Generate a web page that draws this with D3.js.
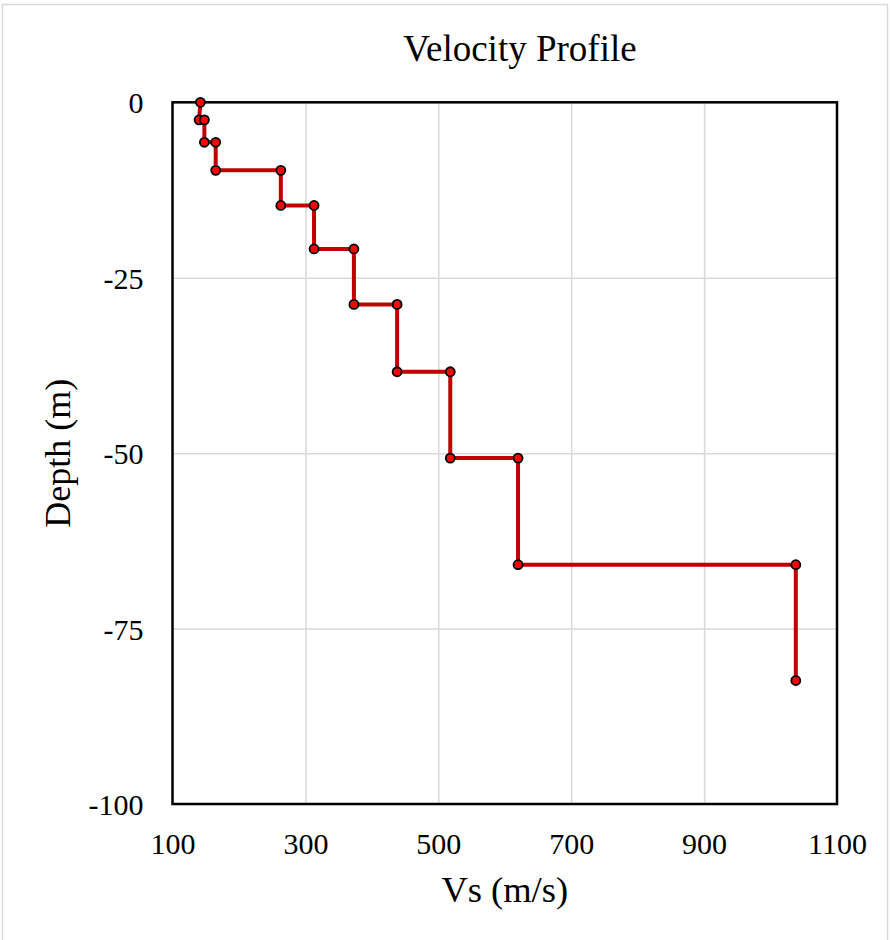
<!DOCTYPE html>
<html>
<head>
<meta charset="utf-8">
<script src="https://cdn.jsdelivr.net/npm/d3@7"></script>
<style>
html,body{margin:0;padding:0;background:#fff;}
svg text{font-family:"Liberation Serif","Times New Roman",serif;fill:#000;}
</style>
</head>
<body>
<svg id="chart" width="890" height="940"></svg>
<script>
// Data
const vs =    [142, 140, 148, 148, 165, 165, 263, 263, 313, 313, 373, 373, 438, 438, 518, 518, 620, 620, 1038, 1038];
const depth = [0, -2.5, -2.5, -5.7, -5.7, -9.7, -9.7, -14.7, -14.7, -20.9, -20.9, -28.8, -28.8, -38.4, -38.4, -50.7, -50.7, -65.9, -65.9, -82.4];
const xTicks = [100, 300, 500, 700, 900, 1100];
const yTicks = [0, -25, -50, -75, -100];
const titleText = "Velocity Profile";
const xLabel = "Vs (m/s)";
const yLabel = "Depth (m)";

const svg = d3.select("#chart");
const plot = {left: 172.5, right: 837, top: 102.3, bottom: 804};

// outer chart border
svg.append("rect").attr("x", 2.5).attr("y", 4.5).attr("width", 885).attr("height", 940)
  .attr("fill", "#fff").attr("stroke", "#d9d9d9").attr("stroke-width", 1.5);

const x = d3.scaleLinear().domain([100, 1100]).range([plot.left, plot.right]);
const y = d3.scaleLinear().domain([-100, 0]).range([plot.bottom, plot.top]);
const fmt = d => String(d);

// gridlines
svg.append("g").attr("transform", `translate(0,${plot.bottom})`)
  .call(d3.axisBottom(x).tickValues(xTicks).tickSize(-(plot.bottom - plot.top)).tickFormat(""))
  .call(g => g.select(".domain").remove())
  .call(g => g.selectAll("line").attr("stroke", "#d9d9d9").attr("stroke-width", 1.5));
svg.append("g").attr("transform", `translate(${plot.left},0)`)
  .call(d3.axisLeft(y).tickValues(yTicks).tickSize(-(plot.right - plot.left)).tickFormat(""))
  .call(g => g.select(".domain").remove())
  .call(g => g.selectAll("line").attr("stroke", "#d9d9d9").attr("stroke-width", 1.5));

// tick labels
const xAxis = svg.append("g").attr("transform", `translate(0,${plot.bottom})`)
  .call(d3.axisBottom(x).tickValues(xTicks).tickSize(0).tickPadding(0).tickFormat(fmt));
xAxis.select(".domain").remove();
xAxis.attr("font-family", "'Liberation Serif', serif").attr("font-size", 30);
xAxis.selectAll("text").attr("dy", null).attr("y", 50);

const yAxis = svg.append("g").attr("transform", `translate(${plot.left},0)`)
  .call(d3.axisLeft(y).tickValues(yTicks).tickSize(0).tickPadding(0).tickFormat(fmt));
yAxis.select(".domain").remove();
yAxis.attr("font-family", "'Liberation Serif', serif").attr("font-size", 30);
yAxis.selectAll("text").attr("x", -29).attr("dy", "0.35em");

// plot frame
svg.append("rect").attr("x", plot.left).attr("y", plot.top)
  .attr("width", plot.right - plot.left).attr("height", plot.bottom - plot.top)
  .attr("fill", "none").attr("stroke", "#000").attr("stroke-width", 2.5);

// data
const pts = vs.map((v, i) => ({v: v, d: depth[i]}));
svg.append("path").datum(pts)
  .attr("d", d3.line().x(p => x(p.v)).y(p => y(p.d)))
  .attr("fill", "none").attr("stroke", "#c00000").attr("stroke-width", 4)
  .attr("stroke-linejoin", "round");
svg.append("g").selectAll("circle").data(pts).join("circle")
  .attr("cx", p => x(p.v)).attr("cy", p => y(p.d)).attr("r", 4.5)
  .attr("fill", "#ff0000").attr("stroke", "#000").attr("stroke-width", 1.8);

// titles
svg.append("text").attr("x", 520).attr("y", 61).attr("text-anchor", "middle")
  .attr("font-size", 37).text(titleText);
svg.append("text").attr("x", (plot.left + plot.right) / 2).attr("y", 902).attr("text-anchor", "middle")
  .attr("font-size", 36.5).text(xLabel);
svg.append("text").attr("transform", `translate(70,${(plot.top + plot.bottom) / 2}) rotate(-90)`)
  .attr("text-anchor", "middle").attr("font-size", 36).text(yLabel);
</script>
</body>
</html>
